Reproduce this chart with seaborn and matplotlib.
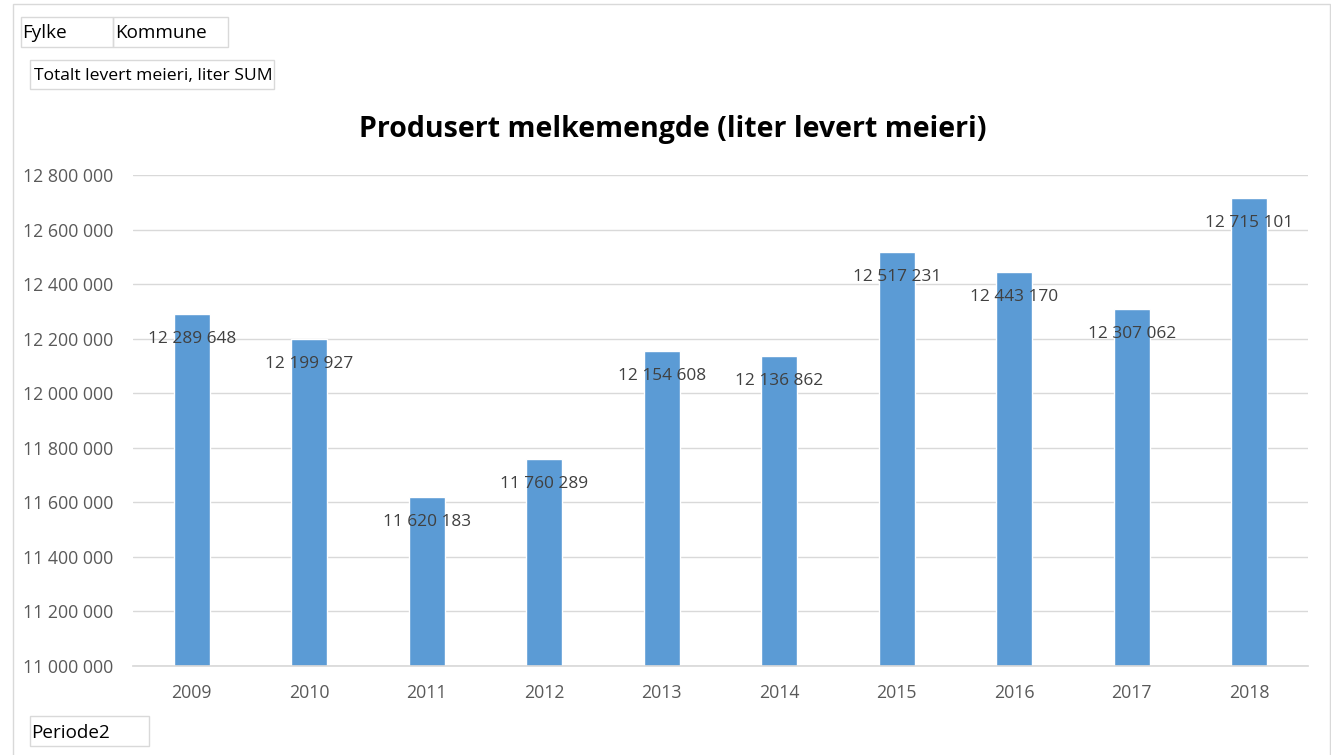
import matplotlib
matplotlib.use("Agg")
import matplotlib.pyplot as plt
from matplotlib.patches import Rectangle
from matplotlib.ticker import FuncFormatter, MultipleLocator
import seaborn as sns
import pandas as pd

# ─── Data ─────────────────────────────────────────────────────────────────────
years = ["2009", "2010", "2011", "2012", "2013", "2014", "2015", "2016", "2017", "2018"]
litres = [12289648, 12199927, 11620183, 11760289, 12154608,
          12136862, 12517231, 12443170, 12307062, 12715101]

TITLE = "Produsert melkemengde (liter levert meieri)"
BAR = "#5B9BD5"
GRID = "#D9D9D9"
TICK = "#595959"
LABEL = "#404040"

W, H = 1331, 755


def space_thousands(v, _pos=None):
    return f"{int(round(v)):,}".replace(",", " ")


sns.set_theme(style="white")
plt.rcParams["font.family"] = ["Open Sans", "DejaVu Sans"]

df = pd.DataFrame({"year": years, "litres": litres})

fig = plt.figure(figsize=(W / 100, H / 100), dpi=100)
ax = fig.add_axes([133 / W, 1 - 666 / H, (1308 - 133) / W, (666 - 175) / H])

sns.barplot(data=df, x="year", y="litres", color=BAR, width=0.31,
            saturation=1, ax=ax)

ax.set_ylim(11_000_000, 12_800_000)
ax.yaxis.set_major_locator(MultipleLocator(200_000))
ax.yaxis.set_major_formatter(FuncFormatter(space_thousands))
ax.grid(axis="y", color=GRID, linewidth=1)
ax.set_axisbelow(True)
for side in ["left", "top", "right"]:
    ax.spines[side].set_visible(False)
ax.spines["bottom"].set_color(GRID)
ax.tick_params(axis="y", length=0, pad=14, labelsize=12.8, labelcolor=TICK)
ax.tick_params(axis="x", length=0, pad=13, labelsize=12.8, labelcolor=TICK)
ax.set_xlabel("")
ax.set_ylabel("")

# data labels just inside the top of each bar
for patch, val in zip(ax.patches, litres):
    cx = patch.get_x() + patch.get_width() / 2
    ax.annotate(space_thousands(val), (cx, patch.get_height()),
                xytext=(0, -18), textcoords="offset points",
                ha="center", va="center", fontsize=12.4, color=LABEL)

fig.text(0.5 * (358 + 987) / W, 1 - 130 / H, TITLE, ha="center", va="center",
         fontsize=20.5, fontweight="bold", color="black")


# ─── Pivot field buttons + outer frame ───────────────────────────────────────
def box(x0, y0, x1, y1, text=None, tx=None, size=13.6):
    fig.patches.append(Rectangle((x0 / W, 1 - y1 / H), (x1 - x0) / W, (y1 - y0) / H,
                                 transform=fig.transFigure, fill=False,
                                 edgecolor=GRID, linewidth=1))
    if text:
        fig.text((tx if tx else x0 + 3) / W, 1 - ((y0 + y1) / 2 + 1.5) / H, text,
                 ha="left", va="center", fontsize=size, color="black")


box(13, 4, 1330, 760)
box(21, 17, 113, 47, "Fylke", 22)
box(113, 17, 228, 47, "Kommune", 115)
box(30, 60, 274, 89, "Totalt levert meieri, liter SUM", 34, size=12.6)
box(30, 716, 149, 746, "Periode2", 31)

fig.savefig("out.png", dpi=100)
